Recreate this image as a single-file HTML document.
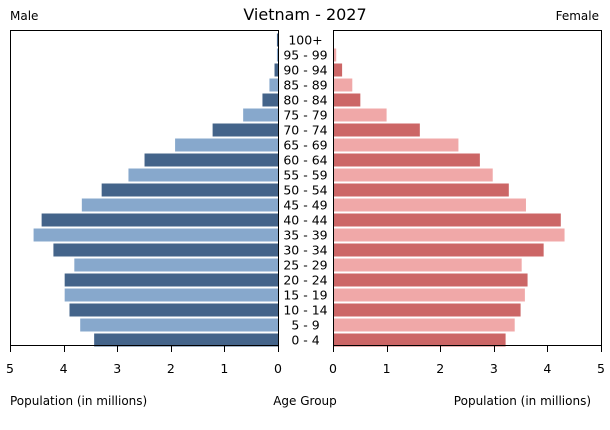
<!DOCTYPE html>
<html><head><meta charset="utf-8"><style>
body{margin:0;background:#fff;font-family:"Liberation Sans","DejaVu Sans",sans-serif;}
svg text{font-family:"DejaVu Sans","Liberation Sans",sans-serif;}
</style></head><body>
<svg id="chart" width="610" height="425" viewBox="0 0 610 425">
<text x="305" y="20" font-size="16" text-anchor="middle">Vietnam - 2027</text>
<text x="10" y="20" font-size="12">Male</text>
<text x="599" y="20" font-size="12" text-anchor="end">Female</text>
<text x="10" y="405" font-size="12">Population (in millions)</text>
<text x="305" y="405" font-size="12" text-anchor="middle">Age Group</text>
<text x="591" y="405" font-size="12" text-anchor="end">Population (in millions)</text>
<g id="bars"></g>
</svg>
<script>
const ageGroups=["100+","95 - 99","90 - 94","85 - 89","80 - 84","75 - 79","70 - 74","65 - 69","60 - 64","55 - 59","50 - 54","45 - 49","40 - 44","35 - 39","30 - 34","25 - 29","20 - 24","15 - 19","10 - 14","5 - 9","0 - 4"];
const maleValues=[0.02,0.02,0.065,0.16,0.29,0.65,1.22,1.92,2.49,2.79,3.29,3.66,4.41,4.56,4.19,3.80,3.98,3.98,3.89,3.69,3.43];
const femaleValues=[0.01,0.06,0.17,0.36,0.51,1.00,1.62,2.34,2.74,2.98,3.28,3.60,4.25,4.32,3.93,3.52,3.63,3.58,3.50,3.39,3.22];
const tickValues=[0,1,2,3,4,5];
const tickLabels=["0","1","2","3","4","5"];
const NS="http://www.w3.org/2000/svg";
const svg=document.getElementById("chart");
const g=document.getElementById("bars");
const L0=278,LMAX=10,R0=333,RMAX=601,TOP=30,BOT=345,MAXV=5;
const xl=v=>L0-(L0-LMAX)*v/MAXV;
const xr=v=>R0+(RMAX-R0)*v/MAXV;
const yc=i=>40+i*(BOT-5-40)/(ageGroups.length-1);
function mk(tag,attrs){const e=document.createElementNS(NS,tag);for(const k in attrs)e.setAttribute(k,attrs[k]);return e;}
ageGroups.forEach((a,i)=>{
  const dark=(ageGroups.length-1-i)%2===0;
  const m=mk("rect",{x:xl(maleValues[i]),y:yc(i)-6.5,width:L0-xl(maleValues[i]),height:13,fill:dark?"#44648a":"#87a8cc"});
  
  
  g.appendChild(m);
  const f=mk("rect",{x:R0,y:yc(i)-6.5,width:xr(femaleValues[i])-R0,height:13,fill:dark?"#cc6666":"#f0a8a8"});
  
  
  g.appendChild(f);
  const t=mk("text",{x:305.5,y:yc(i)+4.5,"font-size":"12.5","text-anchor":"middle"});
  t.textContent=a;
  
  
  g.appendChild(t);
});
const fl=mk("rect",{x:LMAX+0.5,y:TOP+0.5,width:L0-LMAX,height:BOT-TOP,fill:"none",stroke:"#000","stroke-width":1});


svg.appendChild(fl);
const fr=mk("rect",{x:R0+0.5,y:TOP+0.5,width:RMAX-R0,height:BOT-TOP,fill:"none",stroke:"#000","stroke-width":1});


svg.appendChild(fr);
tickValues.forEach((v,i)=>{
  [xl(v),xr(v)].forEach((x,side)=>{
    const l=mk("line",{x1:Math.round(x)+0.5,x2:Math.round(x)+0.5,y1:BOT,y2:BOT+7,stroke:"#000"});
    
    
    svg.appendChild(l);
    const t=mk("text",{x:x,y:BOT+28,"font-size":"12.5","text-anchor":"middle"});
    t.textContent=tickLabels[i];
    
    
    svg.appendChild(t);
  });
});
</script>
</body></html>
